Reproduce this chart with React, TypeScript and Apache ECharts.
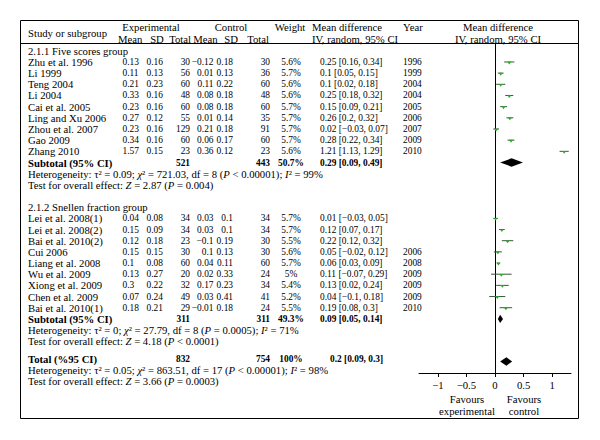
import React, { useEffect, useRef } from "react";
import * as echarts from "echarts";

// ---------- data ----------
const group1Title = "2.1.1 Five scores group";
const studies1 = ["Zhu et al. 1996", "Li 1999", "Teng 2004", "Li 2004", "Cai et al. 2005", "Ling and Xu 2006", "Zhou et al. 2007", "Gao 2009", "Zhang 2010"];
const expMean1 = [0.13, 0.11, 0.21, 0.33, 0.23, 0.27, 0.23, 0.34, 1.57];
const expSD1 = [0.16, 0.13, 0.23, 0.16, 0.16, 0.12, 0.16, 0.16, 0.15];
const expN1 = [30, 56, 60, 48, 60, 55, 129, 60, 23];
const ctlMean1 = [-0.12, 0.01, 0.11, 0.08, 0.08, 0.01, 0.21, 0.06, 0.36];
const ctlSD1 = [0.18, 0.13, 0.22, 0.18, 0.18, 0.14, 0.18, 0.17, 0.12];
const ctlN1 = [30, 36, 60, 48, 60, 35, 91, 60, 23];
const weight1 = [5.6, 5.7, 5.6, 5.6, 5.7, 5.7, 5.7, 5.7, 5.6];
const md1 = [0.25, 0.1, 0.1, 0.25, 0.15, 0.26, 0.02, 0.28, 1.21];
const lo1 = [0.16, 0.05, 0.02, 0.18, 0.09, 0.2, -0.03, 0.22, 1.13];
const hi1 = [0.34, 0.15, 0.18, 0.32, 0.21, 0.32, 0.07, 0.34, 1.29];
const year1 = [1996, 1999, 2004, 2004, 2005, 2006, 2007, 2009, 2010];

const group2Title = "2.1.2 Snellen fraction group";
const studies2 = ["Lei et al. 2008(1)", "Lei et al. 2008(2)", "Bai et al. 2010(2)", "Cui 2006", "Liang et al. 2008", "Wu et al. 2009", "Xiong et al. 2009", "Chen et al. 2009", "Bai et al. 2010(1)"];
const expMean2 = [0.04, 0.15, 0.12, 0.15, 0.1, 0.13, 0.3, 0.07, 0.18];
const expSD2 = [0.08, 0.09, 0.18, 0.15, 0.08, 0.27, 0.22, 0.24, 0.21];
const expN2 = [34, 34, 23, 30, 60, 20, 32, 49, 29];
const ctlMean2 = [0.03, 0.03, -0.1, 0.1, 0.04, 0.02, 0.17, 0.03, -0.01];
const ctlSD2 = [0.1, 0.1, 0.19, 0.13, 0.11, 0.33, 0.23, 0.41, 0.18];
const ctlN2 = [34, 34, 30, 30, 60, 24, 34, 41, 24];
const weight2 = [5.7, 5.7, 5.5, 5.6, 5.7, 5, 5.4, 5.2, 5.5];
const md2 = [0.01, 0.12, 0.22, 0.05, 0.06, 0.11, 0.13, 0.04, 0.19];
const lo2 = [-0.03, 0.07, 0.12, -0.02, 0.03, -0.07, 0.02, -0.1, 0.08];
const hi2 = [0.05, 0.17, 0.32, 0.12, 0.09, 0.29, 0.24, 0.18, 0.3];
const year2 = [null, null, null, 2006, 2008, 2009, 2009, 2009, 2010];

const subLabels = ["Subtotal (95% CI)", "Subtotal (95% CI)", "Total (%95 CI)"];
const subExpN = [521, 311, 832];
const subCtlN = [443, 311, 754];
const subWeight = [50.7, 49.3, 100];
const subMD = [0.29, 0.09, 0.2];
const subLo = [0.09, 0.05, 0.09];
const subHi = [0.49, 0.14, 0.3];
const hetTexts = [
  "Heterogeneity: τ² = 0.09; {i|χ}² = 721.03, df = 8 ({i|P} < 0.00001); {i|I}² = 99%",
  "Heterogeneity: τ² = 0; {i|χ}² = 27.79, df = 8 ({i|P} = 0.0005); {i|I}² = 71%",
  "Heterogeneity: τ² = 0.05; {i|χ}² = 863.51, df = 17 ({i|P} < 0.00001); {i|I}² = 98%",
];
const testTexts = [
  "Test for overall effect: {i|Z} = 2.87 ({i|P} = 0.004)",
  "Test for overall effect: {i|Z} = 4.18 ({i|P} < 0.0001)",
  "Test for overall effect: {i|Z} = 3.66 ({i|P} = 0.0003)",
];
const tickValues = [-1, -0.5, 0, 0.5, 1];
const favourLeft = "Favours\nexperimental";
const favourRight = "Favours\ncontrol";

// ---------- layout ----------
const FAMILY = "Liberation Serif, Times New Roman, serif";
const FS = 10.7;
const FSN = 9.4;
const Y0 = 50.8;
const DY = 11.17;
const rowY = (r: number) => Y0 + DY * r;
const GRID_TOP = 44;
const GRID_BOTTOM_Y = 373;
const X_LEFT = 419;
const X_RIGHT = 571;
const TOTAL_TEXT_Y = 359;
const TOTAL_MARK_Y = 361.5;
const TOTAL_HET_Y = 370;
const TOTAL_TEST_Y = 381;

const fmt = (v: number) => (v < 0 ? "\u2212" + String(-v) : String(v));
const fmtCI = (m: number, l: number, h: number) => `${fmt(m)} [${fmt(l)}, ${fmt(h)}]`;

const COL = {
  study: 28,
  expMean: 122.5,
  expSD: 146.5,
  expN: 190,
  ctlMean: 213.5,
  ctlSD: 233,
  ctlN: 270,
  weight: 291,
  md: 320,
  year: 403,
};

function txt(x: number, y: number, text: string, align = "left", opts: any = {}) {
  const { bold = false, size = FS, ...extra } = opts;
  return {
    type: "text",
    x,
    y,
    silent: true,
    style: {
      text,
      fill: "#000",
      fontFamily: FAMILY,
      fontSize: size,
      fontWeight: bold ? "bold" : "normal",
      align,
      verticalAlign: "middle",
      ...extra,
    },
  };
}

const num = (x: number, y: number, text: string, align = "left", bold = false) =>
  txt(x, y, text, align, { size: FSN, bold });

function richTxt(x: number, y: number, text: string) {
  return txt(x, y, text, "left", {
    rich: {
      i: { fontStyle: "italic", fontSize: FS, fontFamily: FAMILY, fill: "#000" },
    },
  });
}

export default function App() {
  const ref = useRef<HTMLDivElement>(null);

  useEffect(() => {
    if (!ref.current) return;
    const chart = echarts.init(ref.current, null, { renderer: "svg" });

    const groups = [
      { title: group1Title, studies: studies1, em: expMean1, es: expSD1, en: expN1, cm: ctlMean1, cs: ctlSD1, cn: ctlN1, w: weight1, md: md1, lo: lo1, hi: hi1, yr: year1, start: 0 },
      { title: group2Title, studies: studies2, em: expMean2, es: expSD2, en: expN2, cm: ctlMean2, cs: ctlSD2, cn: ctlN2, w: weight2, md: md2, lo: lo2, hi: hi2, yr: year2, start: 14 },
    ];

    const g: any[] = [];
    g.push({ type: "rect", shape: { x: 20.5, y: 20.5, width: 558, height: 398 }, style: { fill: "none", stroke: "#000", lineWidth: 1 }, silent: true });
    g.push({ type: "line", shape: { x1: 20.5, y1: 43.5, x2: 578.5, y2: 43.5 }, style: { stroke: "#000", lineWidth: 1 }, silent: true });

    // header
    g.push(txt(COL.study, 33, "Study or subgroup"));
    g.push(txt(151, 27, "Experimental", "center"));
    g.push(txt(231, 27, "Control", "center"));
    g.push(txt(118, 39, "Mean"));
    g.push(txt(157, 39, "SD", "center"));
    g.push(txt(191, 39, "Total", "right"));
    g.push(txt(217.5, 39, "Mean", "right"));
    g.push(txt(238, 39, "SD", "right"));
    g.push(txt(269, 39, "Total", "right"));
    g.push(txt(290, 27, "Weight", "center"));
    g.push(txt(347, 27, "Mean difference", "center"));
    g.push(txt(355, 39, "IV, random, 95% CI", "center"));
    g.push(txt(COL.year, 27, "Year"));
    g.push(txt(498, 27, "Mean difference", "center"));
    g.push(txt(498, 39, "IV, random, 95% CI", "center"));

    const studyData: any[] = [];
    const diamondData: any[] = [];

    groups.forEach((gr, gi) => {
      g.push(txt(COL.study, rowY(gr.start), gr.title));
      gr.studies.forEach((name, i) => {
        const r = gr.start + 1 + i;
        const y = rowY(r);
        g.push(txt(COL.study, y, name));
        g.push(num(COL.expMean, y, fmt(gr.em[i])));
        g.push(num(COL.expSD, y, fmt(gr.es[i])));
        g.push(num(COL.expN, y, String(gr.en[i]), "right"));
        g.push(num(COL.ctlMean, y, fmt(gr.cm[i]), "right"));
        g.push(num(COL.ctlSD, y, fmt(gr.cs[i]), "right"));
        g.push(num(COL.ctlN, y, String(gr.cn[i]), "right"));
        g.push(num(COL.weight, y, `${gr.w[i]}%`, "center"));
        g.push(num(COL.md, y, fmtCI(gr.md[i], gr.lo[i], gr.hi[i])));
        if (gr.yr[i] != null) g.push(num(COL.year, y, String(gr.yr[i])));
        studyData.push([gr.md[i], gr.lo[i], gr.hi[i], r]);
      });
      const rs = gr.start + 1 + gr.studies.length;
      const ys = rowY(rs);
      g.push(txt(COL.study, ys, subLabels[gi], "left", { bold: true }));
      g.push(num(COL.expN, ys, String(subExpN[gi]), "right", true));
      g.push(num(COL.ctlN, ys, String(subCtlN[gi]), "right", true));
      g.push(num(COL.weight, ys, `${subWeight[gi]}%`, "center", true));
      g.push(num(COL.md, ys, fmtCI(subMD[gi], subLo[gi], subHi[gi]), "left", true));
      g.push(richTxt(COL.study, rowY(rs + 1), hetTexts[gi]));
      g.push(richTxt(COL.study, rowY(rs + 2), testTexts[gi]));
      diamondData.push([subMD[gi], subLo[gi], subHi[gi], rs]);
    });

    // overall total
    g.push(txt(COL.study, TOTAL_TEXT_Y, subLabels[2], "left", { bold: true }));
    g.push(num(COL.expN, TOTAL_TEXT_Y, String(subExpN[2]), "right", true));
    g.push(num(COL.ctlN, TOTAL_TEXT_Y, String(subCtlN[2]), "right", true));
    g.push(num(COL.weight, TOTAL_TEXT_Y, `${subWeight[2]}%`, "center", true));
    g.push(num(330, TOTAL_TEXT_Y, fmtCI(subMD[2], subLo[2], subHi[2]), "left", true));
    g.push(richTxt(COL.study, TOTAL_HET_Y, hetTexts[2]));
    g.push(richTxt(COL.study, TOTAL_TEST_Y, testTexts[2]));
    diamondData.push([subMD[2], subLo[2], subHi[2], (TOTAL_MARK_Y - Y0) / DY]);

    // favours labels
    g.push(txt(467, 405, favourLeft, "center", { lineHeight: 12 }));
    g.push(txt(524, 405, favourRight, "center", { lineHeight: 12 }));

    const yMin = (GRID_TOP - Y0) / DY;
    const yMax = (GRID_BOTTOM_Y - Y0) / DY;

    chart.setOption({
      animation: false,
      backgroundColor: "#fff",
      textStyle: { fontFamily: FAMILY },
      grid: {
        left: X_LEFT,
        right: 600 - X_RIGHT,
        top: GRID_TOP,
        bottom: 440 - GRID_BOTTOM_Y,
        containLabel: false,
        outerBoundsMode: "none",
      },
      xAxis: {
        type: "value",
        min: -1.33,
        max: 1.33,
        axisLine: { show: true, onZero: false, lineStyle: { color: "#000", width: 1 } },
        axisTick: { show: true, inside: false, length: 4, customValues: tickValues, lineStyle: { color: "#000" } },
        axisLabel: {
          customValues: tickValues,
          formatter: (v: number) => fmt(v),
          color: "#000",
          fontFamily: FAMILY,
          fontSize: FS,
          margin: 6,
        },
        splitLine: { show: false },
      },
      yAxis: {
        type: "value",
        inverse: true,
        min: yMin,
        max: yMax,
        axisLine: { show: true, onZero: true, lineStyle: { color: "#000", width: 1 } },
        axisTick: { show: false },
        axisLabel: { show: false },
        splitLine: { show: false },
      },
      series: [
        {
          type: "custom",
          name: "studies",
          data: studyData,
          encode: { x: [0, 1, 2], y: 3 },
          renderItem: (params: any, api: any) => {
            const r = api.value(3);
            const pL = api.coord([api.value(1), r]);
            const pH = api.coord([api.value(2), r]);
            const pM = api.coord([api.value(0), r]);
            return {
              type: "group",
              children: [
                { type: "line", shape: { x1: pL[0], y1: pM[1], x2: pH[0], y2: pM[1] }, style: { stroke: "#3d553d", lineWidth: 1 } },
                { type: "polygon", shape: { points: [[pM[0] - 2, pM[1] - 0.3], [pM[0] + 2, pM[1] - 0.3], [pM[0], pM[1] + 2.5]] }, style: { fill: "#22b022" } },
              ],
            };
          },
        },
        {
          type: "custom",
          name: "pooled",
          data: diamondData,
          encode: { x: [0, 1, 2], y: 3 },
          renderItem: (params: any, api: any) => {
            const r = api.value(3);
            const pL = api.coord([api.value(1), r]);
            const pH = api.coord([api.value(2), r]);
            const pM = api.coord([api.value(0), r]);
            const h = 4.2;
            return {
              type: "polygon",
              shape: { points: [[pL[0], pM[1]], [pM[0], pM[1] - h], [pH[0], pM[1]], [pM[0], pM[1] + h]] },
              style: { fill: "#000" },
            };
          },
        },
      ],
      graphic: g,
    });

    return () => chart.dispose();
  }, []);

  return <div ref={ref} style={{ position: "absolute", left: 0, top: 0, width: 600, height: 440 }} />;
}
